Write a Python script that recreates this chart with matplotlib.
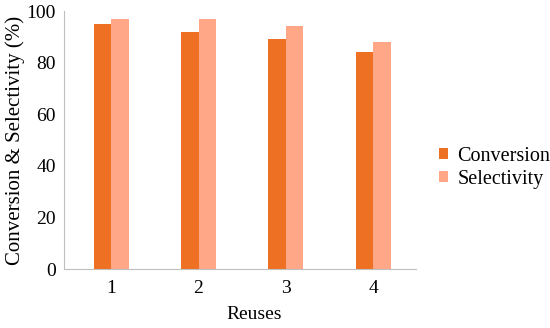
import matplotlib
matplotlib.use("Agg")
import matplotlib.pyplot as plt
import numpy as np

plt.rcParams['font.family'] = ['Liberation Serif', 'DejaVu Serif']

reuses = ["1", "2", "3", "4"]
conversion = [95, 92, 89, 84]
selectivity = [97, 97, 94, 88]
series_names = ["Conversion", "Selectivity"]
colors = ["#EE7022", "#FFA787"]

fig = plt.figure(figsize=(5.5, 3.28), dpi=100)
W, H = 550, 328
ax = fig.add_axes([64 / W, 1 - 269 / H, (416 - 64) / W, (269 - 11) / H])

x = np.arange(1, len(reuses) + 1)
w = 0.2
ax.bar(x - w / 2, conversion, width=w, color=colors[0], label=series_names[0])
ax.bar(x + w / 2, selectivity, width=w, color=colors[1], label=series_names[1])

ax.set_xlim(0.46, 4.49)
ax.set_ylim(0, 100)
ax.set_yticks([0, 20, 40, 60, 80, 100])
ax.set_xticks(x)
ax.set_xticklabels(reuses)

for s in ["top", "right"]:
    ax.spines[s].set_visible(False)
ax.spines["left"].set_color("#BFBFBF")
ax.spines["bottom"].set_color("#BFBFBF")
ax.spines["left"].set_linewidth(0.8)
ax.spines["bottom"].set_linewidth(0.8)
ax.tick_params(axis="y", length=0, labelsize=14, pad=6)
ax.tick_params(axis="x", length=0, labelsize=14, pad=8)

ax.set_ylabel("Conversion & Selectivity (%)", fontsize=15)
ax.yaxis.set_label_coords(-0.11, 0.5)
ax.set_xlabel("Reuses", fontsize=14)
ax.xaxis.set_label_coords((254 - 64) / (416 - 64), -(306 - 269) / (269 - 11))

leg = fig.legend(loc="center left", bbox_to_anchor=(437 / W, 1 - 168 / H),
                 frameon=False, fontsize=14.5, handlelength=0.45, handleheight=0.45,
                 handletextpad=0.45, labelspacing=0.2, borderpad=0.1,
                 borderaxespad=0.0)

fig.savefig("out.png", dpi=100)
